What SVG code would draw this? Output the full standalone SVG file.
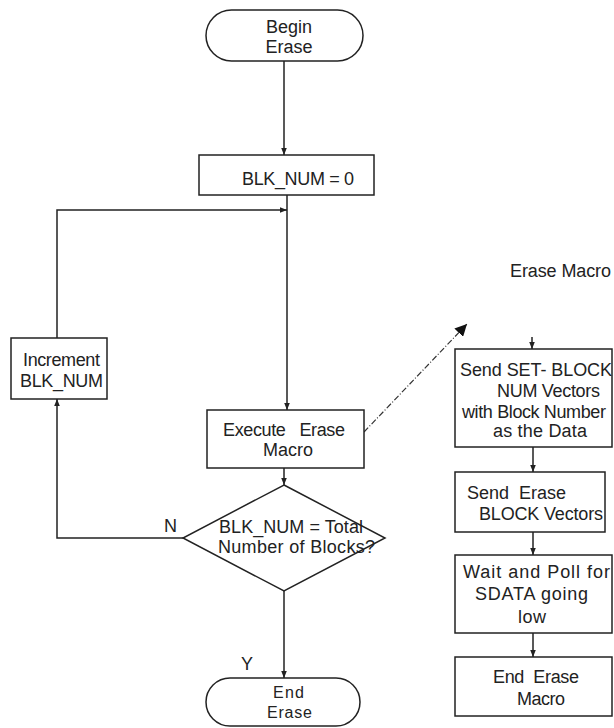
<svg xmlns="http://www.w3.org/2000/svg" width="614" height="728" viewBox="0 0 614 728">
<defs>
<marker id="ah" viewBox="0 0 10 10" refX="10" refY="5" markerWidth="7" markerHeight="7" markerUnits="userSpaceOnUse" orient="auto">
<path d="M0,1 L10,5 L0,9 Z" fill="#222"/>
</marker>
<marker id="big" viewBox="0 0 10 10" refX="10" refY="5" markerWidth="12" markerHeight="12" markerUnits="userSpaceOnUse" orient="auto">
<path d="M0,0 L10,5 L0,10 Z" fill="#111"/>
</marker>
<style>
.s{fill:#fff;stroke:#222;stroke-width:1.5}
.c{fill:none;stroke:#222;stroke-width:1.5}
text{font-family:"Liberation Sans",Arial,sans-serif;font-size:18px;fill:#222}
.sm{font-size:16px}
</style>
</defs>
<rect width="614" height="728" fill="#fff"/>
<g id="connectors">
<path class="c" d="M284,61 V155" marker-end="url(#ah)"/>
<path class="c" d="M287,195 V410" marker-end="url(#ah)"/>
<path class="c" d="M57,338 V210 H287" marker-end="url(#ah)"/>
<path class="c" d="M183,538 H57 V399" marker-end="url(#ah)"/>
<path class="c" d="M284,468 V485" marker-end="url(#ah)"/>
<path class="c" d="M284,591 V678" marker-end="url(#ah)"/>
<path d="M364,432 L467,324" fill="none" stroke="#333" stroke-width="1.2" stroke-dasharray="6,2,1,2" marker-end="url(#big)"/>
<path class="c" d="M532,337 V349" marker-end="url(#ah)"/>
<path class="c" d="M533,447 V472" marker-end="url(#ah)"/>
<path class="c" d="M533,532 V555" marker-end="url(#ah)"/>
<path class="c" d="M533,633 V657" marker-end="url(#ah)"/>
<text x="241" y="670">Y</text>
<text x="164" y="532">N</text>
</g>
<g id="begin">
<rect class="s" x="206" y="10" width="157" height="51" rx="25.5"/>
<text x="289" y="33" text-anchor="middle">Begin</text>
<text x="289" y="53" text-anchor="middle">Erase</text>
</g>
<g id="init">
<rect class="s" x="199" y="155" width="175" height="40"/>
<text x="242" y="185" textLength="112">BLK_NUM = 0</text>
</g>
<g id="increment">
<rect class="s" x="11" y="338" width="96" height="61"/>
<text x="23" y="366" textLength="77">Increment</text>
<text x="20" y="387" textLength="83">BLK_NUM</text>
</g>
<g id="execute">
<rect class="s" x="207" y="410" width="157" height="58"/>
<text x="223" y="436" textLength="122" xml:space="preserve">Execute   Erase</text>
<text x="263" y="456" textLength="50">Macro</text>
</g>
<g id="decision">
<polygon class="s" points="284,485 385,538 284,591 183,538"/>
<text x="219" y="533" textLength="144">BLK_NUM = Total</text>
<text x="218" y="553" textLength="157">Number of Blocks?</text>
</g>
<g id="end">
<rect class="s" x="206" y="678" width="154" height="48" rx="24"/>
<text class="sm" x="273" y="698" textLength="31">End</text>
<text class="sm" x="267" y="718" textLength="45">Erase</text>
</g>
<g id="macro-label">
<text x="510" y="277" textLength="101" xml:space="preserve">Erase Macro</text>
</g>
<g id="set-block">
<rect class="s" x="455" y="349" width="157" height="98"/>
<text x="460" y="376" textLength="152">Send SET- BLOCK</text>
<text x="497" y="397" textLength="103">NUM Vectors</text>
<text x="462" y="418" textLength="144">with Block Number</text>
<text x="493" y="437" textLength="94">as the Data</text>
</g>
<g id="send-erase">
<rect class="s" x="455" y="472" width="150" height="60"/>
<text x="467" y="499" textLength="99" xml:space="preserve">Send  Erase</text>
<text x="479" y="520" textLength="124">BLOCK Vectors</text>
</g>
<g id="wait">
<rect class="s" x="455" y="555" width="157" height="78"/>
<text x="463" y="578" textLength="147">Wait and Poll for</text>
<text x="475" y="600" textLength="113">SDATA going</text>
<text x="518" y="623" textLength="28">low</text>
</g>
<g id="end-macro">
<rect class="s" x="455" y="657" width="157" height="59"/>
<text x="493" y="683" textLength="86" xml:space="preserve">End  Erase</text>
<text x="517" y="705" textLength="48">Macro</text>
</g>
</svg>
